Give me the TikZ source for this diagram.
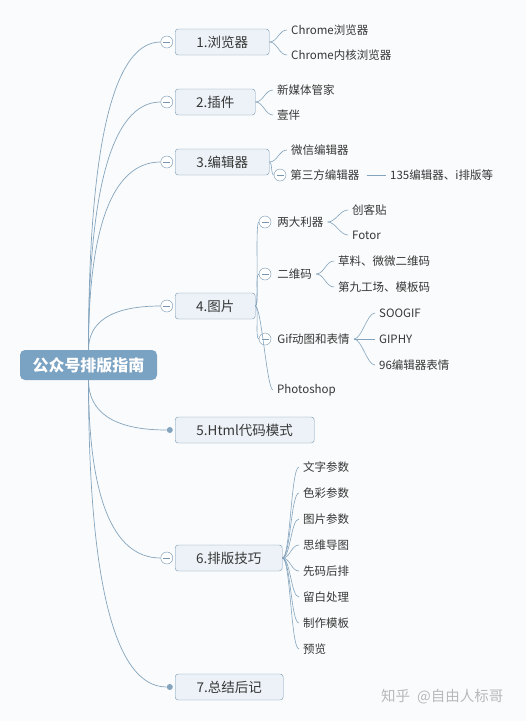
\documentclass[tikz,border=0pt]{standalone}
\usepackage{fontspec}
\setmainfont{Noto Sans CJK SC}
\usepackage{tikz}
\usetikzlibrary{positioning, calc}
\definecolor{map-bg}{RGB}{250,251,252}
\definecolor{map-root}{RGB}{122,162,194}
\definecolor{map-box}{RGB}{236,242,247}
\definecolor{map-edge}{RGB}{118,150,178}
\definecolor{map-line}{RGB}{132,164,190}
\definecolor{map-text}{RGB}{55,55,55}
\definecolor{map-mark}{RGB}{185,185,185}

\begin{document}
\begin{tikzpicture}[
    x=1pt, y=-1pt,
    root/.style={rectangle, rounded corners=5pt, fill=map-root, text=white, minimum width=137pt, minimum height=30pt, font=\fontsize{16}{18}\selectfont\bfseries},
    topic/.style={rectangle, rounded corners=3pt, draw=map-edge, fill=map-box, text=map-text, minimum height=26pt, anchor=west, font=\fontsize{13.5}{15}\selectfont},
    leaf/.style={anchor=west, inner xsep=4pt, inner ysep=1pt, text=map-text, font=\fontsize{11.5}{13}\selectfont},
    fold/.style={circle, draw=map-edge, fill=white, minimum size=12pt, inner sep=0pt, path picture={\draw[map-edge] ([xshift=2.5pt]path picture bounding box.west) -- ([xshift=-2.5pt]path picture bounding box.east);}},
    knot/.style={circle, fill=map-line, minimum size=6pt, inner sep=0pt},
    trunk/.style={draw=map-line, line width=0.7pt},
    twig/.style={draw=map-line, line width=0.6pt}
]

\useasboundingbox (0,0) rectangle (526,721);
\fill[map-bg] (0,0) rectangle (526,721);

% Tema central
\node[root] (root) at (88.5,365) {公众号排版指南};

% Ramos principais
\node[topic, minimum width=94pt] (t1) at (175,42) {1.浏览器};
\node[topic, minimum width=80pt] (t2) at (175,102) {2.插件};
\node[topic, minimum width=94pt] (t3) at (175,162) {3.编辑器};
\node[topic, minimum width=80pt] (t4) at (175,306) {4.图片};
\node[topic, minimum width=139pt] (t5) at (175,430) {5.Html代码模式};
\node[topic, minimum width=107pt] (t6) at (175,558) {6.排版技巧};
\node[topic, minimum width=108pt] (t7) at (175,687) {7.总结后记};

\node[fold, left=2pt of t1] (f1) {};
\node[fold, left=2pt of t2] (f2) {};
\node[fold, left=2pt of t3] (f3) {};
\node[fold, left=2pt of t4] (f4) {};
\node[knot, left=2pt of t5] (k5) {};
\node[fold, left=2pt of t6] (f6) {};
\node[knot, left=2pt of t7] (k7) {};

% cantos das curvas
\coordinate (c1) at (root.north |- f1);
\coordinate (c2) at (root.north |- f2);
\coordinate (c3) at (root.north |- f3);
\coordinate (c4) at (root.north |- f4);
\coordinate (c5) at (root.south |- k5);
\coordinate (c6) at (root.south |- f6);
\coordinate (c7) at (root.south |- k7);

\draw[trunk] (root.north) .. controls ($(root.north)!0.62!(c1)$) and ($(f1.west)!0.7!(c1)$) .. (f1.west);
\draw[trunk] (root.north) .. controls ($(root.north)!0.62!(c2)$) and ($(f2.west)!0.7!(c2)$) .. (f2.west);
\draw[trunk] (root.north) .. controls ($(root.north)!0.62!(c3)$) and ($(f3.west)!0.7!(c3)$) .. (f3.west);
\draw[trunk] (root.north) .. controls ($(root.north)!0.62!(c4)$) and ($(f4.west)!0.7!(c4)$) .. (f4.west);
\draw[trunk] (root.south) .. controls ($(root.south)!0.62!(c5)$) and ($(k5.west)!0.7!(c5)$) .. (k5.west);
\draw[trunk] (root.south) .. controls ($(root.south)!0.62!(c6)$) and ($(f6.west)!0.7!(c6)$) .. (f6.west);
\draw[trunk] (root.south) .. controls ($(root.south)!0.62!(c7)$) and ($(k7.west)!0.7!(c7)$) .. (k7.west);

% 1.浏览器
\node[leaf] (chrome) at (287,30) {Chrome浏览器};
\node[leaf] (core) at (287,55) {Chrome内核浏览器};
\draw[twig] (t1.east) .. controls +(8,0) and +(-8,0) .. (chrome.west);
\draw[twig] (t1.east) .. controls +(8,0) and +(-8,0) .. (core.west);

% 2.插件
\node[leaf] (xinmeiti) at (273,90) {新媒体管家};
\node[leaf] (yiban) at (273,115) {壹伴};
\draw[twig] (t2.east) .. controls +(8,0) and +(-8,0) .. (xinmeiti.west);
\draw[twig] (t2.east) .. controls +(8,0) and +(-8,0) .. (yiban.west);

% 3.编辑器
\node[leaf] (weixin) at (287,150) {微信编辑器};
\node[fold] (f3b) at (280,175) {};
\node[leaf, right=0pt of f3b] (third) {第三方编辑器};
\node[leaf] (more) at (386,175) {135编辑器、i排版等};
\draw[twig] (t3.east) .. controls +(8,0) and +(-8,0) .. (weixin.west);
\draw[twig] (t3.east) .. controls +(3,0) and +(-3,0) .. (f3b.west);
\draw[twig, shorten <=3pt] (third.east) -- (more.west);

% 4.图片
\node[fold] (g1) at (265,222) {};
\node[fold] (g2) at (265,274) {};
\node[fold] (g3) at (265,339) {};
\node[leaf, right=2pt of g1] (tools) {两大利器};
\node[leaf, right=2pt of g2] (qrcode) {二维码};
\node[leaf, right=2pt of g3] (gif) {Gif动图和表情};
\node[leaf] (photoshop) at (273,390) {Photoshop};
\draw[twig] (t4.east) .. controls +(4,0) and +(-4,0) .. (g1.west);
\draw[twig] (t4.east) .. controls +(4,0) and +(-4,0) .. (g2.west);
\draw[twig] (t4.east) .. controls +(4,0) and +(-4,0) .. (g3.west);
\draw[twig] (t4.east) .. controls +(6,0) and +(-6,0) .. (photoshop.west);

\node[leaf] (chuangke) at (348,210) {创客贴};
\node[leaf] (fotor) at (348,235) {Fotor};
\draw[twig] (tools.east) .. controls +(8,0) and +(-8,0) .. (chuangke.west);
\draw[twig] (tools.east) .. controls +(8,0) and +(-8,0) .. (fotor.west);

\node[leaf] (caoliao) at (334,261) {草料、微微二维码};
\node[leaf] (dijiu) at (334,287) {第九工场、模板码};
\draw[twig] (qrcode.east) .. controls +(8,0) and +(-8,0) .. (caoliao.west);
\draw[twig] (qrcode.east) .. controls +(8,0) and +(-8,0) .. (dijiu.west);

\node[leaf] (soogif) at (375,313) {SOOGIF};
\node[leaf] (giphy) at (375,339) {GIPHY};
\node[leaf] (biaoqing) at (375,365) {96编辑器表情};
\draw[twig] (gif.east) .. controls +(8,0) and +(-8,0) .. (soogif.west);
\draw[twig] (gif.east) -- (giphy.west);
\draw[twig] (gif.east) .. controls +(8,0) and +(-8,0) .. (biaoqing.west);

% 6.排版技巧
\node[leaf] (wenzi) at (299,467) {文字参数};
\node[leaf] (secai) at (299,493) {色彩参数};
\node[leaf] (tupian) at (299,519) {图片参数};
\node[leaf] (siwei) at (299,545) {思维导图};
\node[leaf] (xianma) at (299,571) {先码后排};
\node[leaf] (liubai) at (299,597) {留白处理};
\node[leaf] (zhizuo) at (299,623) {制作模板};
\node[leaf] (yulan) at (299,649) {预览};
\draw[twig] (t6.east) .. controls +(8,0) and +(-8,0) .. (wenzi.west);
\draw[twig] (t6.east) .. controls +(8,0) and +(-8,0) .. (secai.west);
\draw[twig] (t6.east) .. controls +(8,0) and +(-8,0) .. (tupian.west);
\draw[twig] (t6.east) .. controls +(8,0) and +(-8,0) .. (siwei.west);
\draw[twig] (t6.east) .. controls +(8,0) and +(-8,0) .. (xianma.west);
\draw[twig] (t6.east) .. controls +(8,0) and +(-8,0) .. (liubai.west);
\draw[twig] (t6.east) .. controls +(8,0) and +(-8,0) .. (zhizuo.west);
\draw[twig] (t6.east) .. controls +(8,0) and +(-8,0) .. (yulan.west);

% Marca d'agua
\node[anchor=west, inner sep=0pt, text=map-mark, font=\fontsize{14.5}{16}\selectfont] (mark) at (381,697) {知乎\hspace{7pt}@自由人标哥};

\end{tikzpicture}
\end{document}
